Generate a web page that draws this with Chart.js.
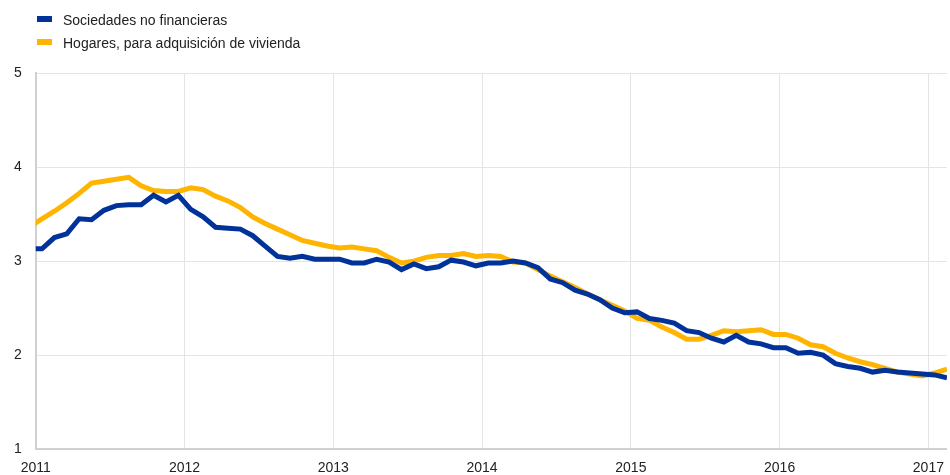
<!DOCTYPE html>
<html>
<head>
<meta charset="utf-8">
<script src="https://cdn.jsdelivr.net/npm/chart.js@4/dist/chart.umd.min.js"></script>
<style>
  html, body { margin: 0; background: #fff; font-family: "Liberation Sans", Arial, sans-serif; overflow: hidden; }
  #wrap { position: relative; width: 950px; height: 475px; overflow: hidden; }
  #legend { position: absolute; left: 37px; top: 10px; font-size: 14px; color: #222; }
  #legend div { height: 23px; line-height: 20px; white-space: nowrap; }
  #legend span.box { display: inline-block; width: 15px; height: 6px; margin-right: 11px; vertical-align: 3px; }
</style>
</head>
<body>
<div id="wrap">
  <canvas id="myChart" width="955" height="490"></canvas>
  <div id="legend"></div>
</div>
<script>
// monthly, Dec 2010 .. Feb 2017
var monthLabels = [];
for (var m = 0; m < 75; m++) {
  var yy = 2010 + Math.floor((11 + m) / 12);
  var mm = (11 + m) % 12 + 1;
  monthLabels.push(yy + "-" + (mm < 10 ? "0" + mm : mm));
}

var sociedades = [3.13,
  3.13,3.25,3.29,3.45,3.44,3.54,3.59,3.60,3.60,3.70,3.63,3.70,
  3.55,3.47,3.36,3.35,3.34,3.27,3.16,3.05,3.03,3.05,3.02,3.02,
  3.02,2.98,2.98,3.02,2.99,2.91,2.97,2.92,2.94,3.01,2.99,2.95,
  2.98,2.98,3.00,2.98,2.93,2.81,2.77,2.69,2.65,2.59,2.50,2.45,
  2.46,2.39,2.37,2.34,2.26,2.24,2.18,2.14,2.21,2.14,2.12,2.08,
  2.08,2.02,2.03,2.00,1.91,1.88,1.86,1.82,1.84,1.82,1.81,1.80,
  1.79,1.76];

var hogares = [3.36,
  3.45,3.53,3.62,3.72,3.83,3.85,3.87,3.89,3.80,3.75,3.74,3.74,
  3.78,3.76,3.69,3.64,3.57,3.47,3.40,3.34,3.28,3.22,3.19,3.16,
  3.14,3.15,3.13,3.11,3.04,2.98,3.00,3.04,3.06,3.06,3.08,3.05,
  3.06,3.05,2.99,2.98,2.91,2.84,2.78,2.72,2.65,2.59,2.53,2.47,
  2.39,2.37,2.30,2.24,2.17,2.17,2.21,2.26,2.25,2.26,2.27,2.22,
  2.22,2.18,2.11,2.09,2.02,1.97,1.93,1.90,1.86,1.82,1.80,1.78,
  1.81,1.85];

var yearTicks = [0, 12, 24, 36, 48, 60, 72];
var yearLabels = ["2011","2012","2013","2014","2015","2016","2017"];
var yTicks = [1, 2, 3, 4, 5];

var seriesNames = ["Sociedades no financieras", "Hogares, para adquisición de vivienda"];
var seriesColors = ["#003299", "#ffb400"];

// points sit mid-month: Dec 2010 at -0.5, Jan 2011 at 0.5 ...
function toPoints(arr) {
  return arr.map(function (v, i) { return { x: i - 0.5, y: v }; });
}

var ctx = document.getElementById("myChart");
var chart = new Chart(ctx, {
  type: 'line',
  data: {
    labels: monthLabels,
    datasets: [{
      label: seriesNames[0],
      data: toPoints(sociedades),
      borderColor: seriesColors[0],
      backgroundColor: seriesColors[0],
      borderWidth: 5,
      pointRadius: 0,
      tension: 0
    },
    {
      label: seriesNames[1],
      data: toPoints(hogares),
      borderColor: seriesColors[1],
      backgroundColor: seriesColors[1],
      borderWidth: 5,
      pointRadius: 0,
      tension: 0
    }]
  },
  options: {
    responsive: false,
    animation: false,
    layout: { padding: { top: 73, right: 2, left: 0, bottom: 2 } },
    plugins: { legend: { display: false }, tooltip: { enabled: false } },
    scales: {
      x: {
        type: 'linear',
        min: 0,
        max: 73.5,
        afterBuildTicks: function (axis) {
          axis.ticks = yearTicks.map(function (v) { return { value: v }; });
        },
        ticks: {
          font: { family: "Liberation Sans", size: 14 },
          color: "#222",
          padding: 11,
          maxRotation: 0,
          callback: function (value) { return yearLabels[yearTicks.indexOf(value)]; }
        },
        grid: { color: "#e4e4e4", lineWidth: 1, drawTicks: false },
        border: { color: "#d0d0d0", width: 2 }
      },
      y: {
        min: 1,
        max: 5,
        afterBuildTicks: function (axis) {
          axis.ticks = yTicks.map(function (v) { return { value: v }; });
        },
        ticks: {
          font: { family: "Liberation Sans", size: 14 },
          color: "#222",
          padding: 14
        },
        grid: { color: "#e4e4e4", lineWidth: 1, drawTicks: false },
        border: { color: "#d0d0d0", width: 2 }
      }
    }
  }
});

var legendDiv = document.getElementById("legend");
seriesNames.forEach(function (name, i) {
  var row = document.createElement("div");
  var box = document.createElement("span");
  box.className = "box";
  box.style.background = seriesColors[i];
  row.appendChild(box);
  row.appendChild(document.createTextNode(name));
  legendDiv.appendChild(row);
});
</script>
</body>
</html>
